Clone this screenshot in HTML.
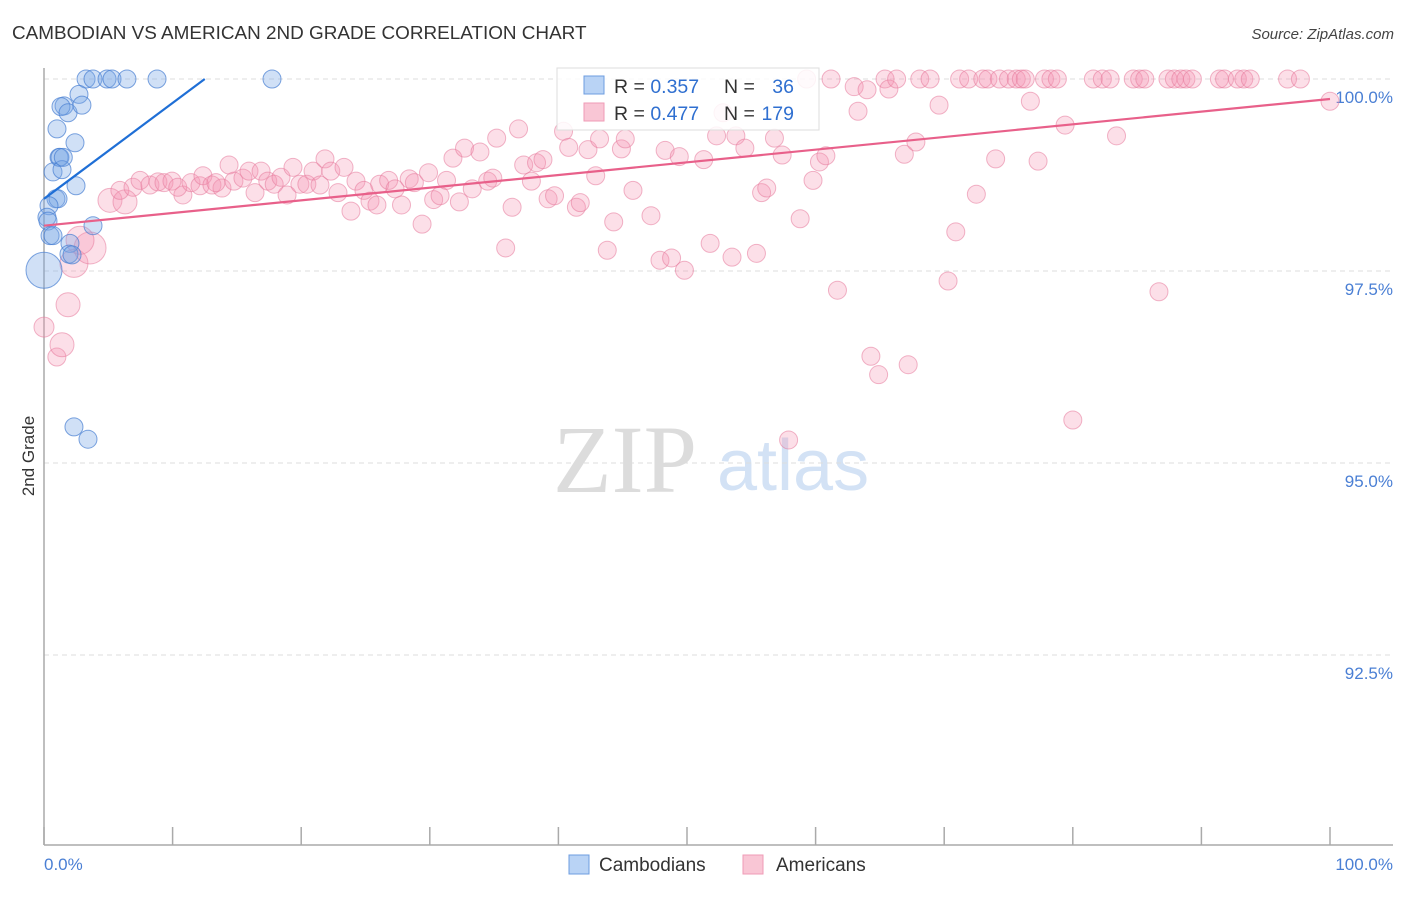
<!DOCTYPE html>
<html><head><meta charset="utf-8"><style>
body{margin:0;background:#fff;font-family:"Liberation Sans",sans-serif;}
svg text{font-family:"Liberation Sans",sans-serif;}
</style></head><body>
<svg id="chart" width="1406" height="892" viewBox="0 0 1406 892" xmlns="http://www.w3.org/2000/svg">
<text x="12" y="39" font-size="18.9" fill="#333">CAMBODIAN VS AMERICAN 2ND GRADE CORRELATION CHART</text>
<text x="1394" y="39" font-size="15" fill="#444" font-style="italic" text-anchor="end">Source: ZipAtlas.com</text>
<g>
<text x="553" y="492" font-size="96" fill="#dcdcdc" font-family="Liberation Serif" style="font-family:'Liberation Serif',serif">ZIP</text>
<text x="717" y="490" font-size="72" fill="#d3e2f5">atlas</text>
</g>
<g id="grid"></g>
<g id="axes"></g>
<g id="pink"></g>
<g id="blue"></g>
<g id="lines"></g>
<text transform="translate(34,456) rotate(-90)" font-size="17" fill="#333" text-anchor="middle">2nd Grade</text>
<g>
<rect x="557" y="68" width="262" height="62" fill="#fff" fill-opacity="0.85" stroke="#ddd"/>
<rect x="584" y="76" width="20" height="18" fill="#b9d3f5" stroke="#6d9de0"/>
<rect x="584" y="103" width="20" height="18" fill="#f9c6d5" stroke="#ef9bb6"/>
<text x="614" y="93" font-size="19.5" fill="#333">R = <tspan fill="#2f6fd0">0.357</tspan></text>
<text x="724" y="93" font-size="19.5" fill="#333">N = </text><text x="794" y="93" font-size="19.5" fill="#2f6fd0" text-anchor="end">36</text>
<text x="614" y="120" font-size="19.5" fill="#333">R = <tspan fill="#2f6fd0">0.477</tspan></text>
<text x="724" y="120" font-size="19.5" fill="#333">N = </text><text x="794" y="120" font-size="19.5" fill="#2f6fd0" text-anchor="end">179</text>
</g>
<g>
<rect x="569" y="855" width="20" height="19" fill="#b9d3f5" stroke="#6d9de0"/>
<text x="599" y="871" font-size="19" fill="#333">Cambodians</text>
<rect x="743" y="855" width="20" height="19" fill="#f9c6d5" stroke="#ef9bb6"/>
<text x="776" y="871" font-size="19" fill="#333">Americans</text>
</g>
</svg>
<script>
const yTicks=[100,97.5,95,92.5];
const yTickLabels=["100.0%","97.5%","95.0%","92.5%"];
const xTickLabels=["0.0%","100.0%"];
const blueX=[3.27,3.81,4.9,5.29,6.45,8.79,17.73,2.72,1.56,1.32,1.87,2.95,1.01,2.41,1.17,1.24,0.7,1.4,2.49,0.93,1.09,0.39,0.23,0.31,0.47,3.81,2.02,1.94,2.18,0,2.33,3.42,0.7,1.5];
const blueY=[100,100,100,100,100,100,100,99.8,99.65,99.64,99.56,99.66,99.35,99.17,98.98,98.98,98.79,98.82,98.61,98.44,98.44,98.35,98.2,98.15,97.96,98.09,97.86,97.72,97.71,97.51,95.47,95.31,97.96,98.98];
const blueR=[9,9,9,9,9,9,9,9,9,9,9,9,9,9,9,9,9,9,9,9,9,9,9,9,9,9,9,9,9,18,9,9,9,9];
const pinkX=[0,1.0,1.4,1.87,2.33,3.58,2.8,5.13,6.3,5.9,6.92,7.47,8.24,8.86,9.33,9.95,10.8,10.4,11.43,12.13,12.36,13.06,13.84,13.37,14.39,14.77,15.47,15.94,16.41,16.88,17.4,17.9,18.43,18.9,19.36,19.9,20.44,20.92,21.46,21.85,22.3,22.86,23.33,23.87,24.26,24.88,25.35,25.89,26.1,26.8,27.3,27.8,28.4,28.8,29.4,29.9,30.3,30.8,31.3,31.8,32.3,32.7,33.3,33.9,34.5,34.9,35.2,35.9,36.4,36.9,37.3,37.9,38.3,38.8,39.2,39.7,40.4,40.8,41.4,41.7,42.3,42.9,43.2,43.8,44.3,44.9,45.2,45.8,47.2,47.9,48.3,48.8,49.4,49.8,51.3,51.8,52.3,52.8,53.5,53.8,54.5,55.4,55.8,56.2,56.8,57.4,57.9,58.8,59.3,59.8,60.3,60.8,61.2,61.7,63,63.3,64,64.3,64.9,65.4,65.7,66.3,66.9,67.2,67.8,68.1,68.9,69.6,70.3,70.9,71.2,71.9,72.5,73,73.4,74,74.3,75,75.6,76,76.3,76.7,77.3,77.8,78.3,78.8,79.4,80,81.6,82.3,82.9,83.4,84.7,85.2,85.6,86.7,87.4,87.9,88.4,88.8,89.3,91.4,91.8,92.8,93.3,93.8,96.7,97.7,100];
const pinkY=[96.77,96.38,96.54,97.06,97.6,97.8,97.9,98.42,98.4,98.55,98.59,98.68,98.62,98.66,98.65,98.67,98.49,98.59,98.65,98.61,98.74,98.62,98.58,98.65,98.88,98.67,98.71,98.8,98.52,98.8,98.67,98.63,98.72,98.49,98.85,98.63,98.63,98.8,98.62,98.96,98.8,98.52,98.85,98.28,98.67,98.55,98.41,98.36,98.63,98.68,98.57,98.36,98.7,98.65,98.11,98.78,98.43,98.48,98.68,98.97,98.4,99.1,98.57,99.05,98.67,98.71,99.23,97.8,98.33,99.35,98.88,98.67,98.91,98.95,98.44,98.48,99.32,99.11,98.33,98.39,99.08,98.74,99.22,97.77,98.14,99.09,99.22,98.55,98.22,97.64,99.07,97.67,98.99,97.51,98.95,97.86,99.26,99.56,97.68,99.26,99.1,97.73,98.52,98.58,99.23,99.01,95.3,98.18,100,98.68,98.92,99.0,100,97.25,99.9,99.58,99.86,96.39,96.15,100,99.87,100,99.02,96.28,99.18,100,100,99.66,97.37,98.01,100,100,98.5,100,100,98.96,100,100,100,100,100,99.71,98.93,100,100,100,99.4,95.56,100,100,100,99.26,100,100,100,97.23,100,100,100,100,100,100,100,100,100,100,100,100,99.71];
const pinkBigIdx=[0,2,3,4,5,6,7,8];
const pinkBigR=[10,12,12,14,16,14,12,12];
const blueTrend=[[0,98.44],[12.5,100]];
const pinkTrend=[[0,98.09],[100,99.74]];

const NS="http://www.w3.org/2000/svg";
const X0=44,X1=1330,Y100=79,PX_PER_PCT=76.8;
function sx(v){return X0+(X1-X0)*v/100;}
function sy(v){return Y100+(100-v)*PX_PER_PCT;}
function mk(tag,attrs,parent){const e=document.createElementNS(NS,tag);for(const k in attrs)e.setAttribute(k,attrs[k]);parent.appendChild(e);return e;}

const grid=document.getElementById('grid');
yTicks.forEach((t,i)=>{
  const l=mk('line',{x1:X0,x2:1393,y1:sy(t),y2:sy(t),stroke:'#ddd','stroke-dasharray':'5,4'},grid);
  
  
  const tx=mk('text',{x:1393,y:sy(t)+24,'font-size':17,fill:'#4a7fd4','text-anchor':'end'},grid);
  tx.textContent=yTickLabels[i];
  
  
});
const axes=document.getElementById('axes');
const ya=mk('line',{x1:X0,x2:X0,y1:68,y2:845,stroke:'#aaa','stroke-width':1.5},axes);


const xa=mk('line',{x1:X0,x2:1393,y1:845,y2:845,stroke:'#aaa','stroke-width':1.5},axes);


for(let i=0;i<=10;i++){
  const tk=mk('line',{x1:sx(i*10),x2:sx(i*10),y1:827,y2:845,stroke:'#aaa','stroke-width':1.5},axes);
  
  
}
const xl0=mk('text',{x:X0,y:870,'font-size':17,fill:'#4a7fd4'},axes);
xl0.textContent=xTickLabels[0];


const xl1=mk('text',{x:1393,y:870,'font-size':17,fill:'#4a7fd4','text-anchor':'end'},axes);
xl1.textContent=xTickLabels[1];



const pink=document.getElementById('pink');
pinkX.forEach((x,i)=>{
  const bi=pinkBigIdx.indexOf(i);
  const r=bi>=0?pinkBigR[bi]:9;
  const c=mk('circle',{cx:sx(x),cy:sy(pinkY[i]),r:r,fill:'rgba(244,150,180,0.3)',stroke:'rgba(230,120,155,0.55)','stroke-width':1},pink);
  
  
});
const blue=document.getElementById('blue');
blueX.forEach((x,i)=>{
  const c=mk('circle',{cx:sx(x),cy:sy(blueY[i]),r:blueR[i],fill:'rgba(120,165,230,0.35)',stroke:'rgba(70,125,210,0.7)','stroke-width':1},blue);
  
  
});
const lines=document.getElementById('lines');
const bl=mk('line',{x1:sx(blueTrend[0][0]),y1:sy(blueTrend[0][1]),x2:sx(blueTrend[1][0]),y2:sy(blueTrend[1][1]),stroke:'#1f6fd6','stroke-width':2.2},lines);


const pl=mk('line',{x1:sx(pinkTrend[0][0]),y1:sy(pinkTrend[0][1]),x2:sx(pinkTrend[1][0]),y2:sy(pinkTrend[1][1]),stroke:'#e8608a','stroke-width':2.2},lines);


</script>
</body></html>
